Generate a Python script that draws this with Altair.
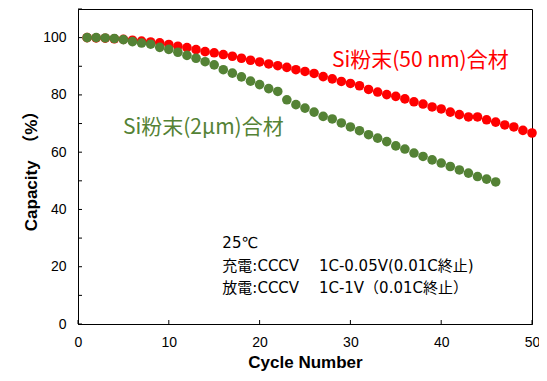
import altair as alt
import pandas as pd

# --- data ---
cycles_50nm = list(range(1, 51))
cap_50nm = [100.0, 99.9, 99.8, 99.6, 99.4, 99.1, 98.8, 98.5, 98.2, 97.6,
            97.0, 96.5, 95.8, 95.1, 94.7, 94.1, 93.5, 92.8, 92.1, 91.5,
            90.8, 90.2, 89.6, 88.8, 88.2, 87.5, 86.4, 85.6, 84.7, 84.0,
            83.2, 81.9, 81.0, 80.1, 79.5, 78.6, 77.6, 76.8, 75.8, 75.1,
            74.0, 73.1, 72.3, 72.3, 71.3, 70.5, 69.5, 68.8, 67.6, 66.7]

cycles_2um = list(range(1, 47))
cap_2um = [100.0, 100.0, 99.9, 99.7, 99.3, 98.6, 98.1, 97.7, 96.6, 95.9,
           94.9, 93.8, 92.8, 91.6, 90.5, 88.8, 87.6, 86.3, 84.8, 83.6,
           82.2, 81.2, 78.3, 76.6, 75.4, 74.0, 72.5, 71.6, 70.2, 68.8,
           67.5, 66.1, 64.9, 63.7, 62.2, 61.1, 59.7, 58.5, 57.3, 56.2,
           55.0, 53.8, 52.7, 51.5, 50.6, 49.6]

series_names = ["Si粉末(50 nm)合材", "Si粉末(2μm)合材"]
series_colors = ["#FF0000", "#548235"]

label_x = [37.7, 13.8]
label_y = [92.0, 68.5]

note_lines = ["25℃", "充電:CCCV　 1C-0.05V(0.01C終止)", "放電:CCCV　 1C-1V（0.01C終止）"]
note_x = [15.9, 15.9, 15.9]
note_y = [28.3, 20.2, 12.6]

x_ticks = [0, 10, 20, 30, 40, 50]
y_ticks = [0, 10, 20, 30, 40, 50, 60, 70, 80, 90, 100, 110]
y_labels = [0, 20, 40, 60, 80, 100]

# --- tables ---
df = pd.concat([
    pd.DataFrame({"cycle": cycles_50nm, "cap": cap_50nm, "series": series_names[0]}),
    pd.DataFrame({"cycle": cycles_2um, "cap": cap_2um, "series": series_names[1]}),
])
labels_df = pd.DataFrame({"x": label_x, "y": label_y, "text": series_names, "series": series_names})
notes_df = pd.DataFrame({"x": note_x, "y": note_y, "text": note_lines})
xt_df = pd.DataFrame({"v": x_ticks})
yt_df = pd.DataFrame({"v": y_ticks})

xscale = alt.Scale(domain=[0, 50], nice=False, zero=False)
yscale = alt.Scale(domain=[0, 110], nice=False)
cscale = alt.Scale(domain=series_names, range=series_colors)

x_axis = alt.Axis(values=x_ticks, tickSize=0, labelPadding=11, labelFontSize=14,
                  labelColor="black", labelFont="Liberation Sans", grid=False,
                  domainColor="black", title="Cycle Number", titleFontSize=17,
                  titleFont="Liberation Sans", titleFontWeight="bold",
                  titleColor="black", titlePadding=5, labelFlush=False)
y_axis = alt.Axis(values=y_labels, tickSize=0, labelPadding=12, labelFontSize=14,
                  labelColor="black", labelFont="Liberation Sans", grid=False,
                  domainColor="black", title="Capacity　（%）", titleFontSize=17,
                  titleFont="Liberation Sans, Noto Sans CJK JP", titleFontWeight="bold",
                  titleColor="black", titlePadding=2)

points = alt.Chart(df).mark_circle(size=92, opacity=1).encode(
    x=alt.X("cycle:Q", scale=xscale, axis=x_axis),
    y=alt.Y("cap:Q", scale=yscale, axis=y_axis),
    color=alt.Color("series:N", scale=cscale, legend=None),
    order=alt.Order("series:N", sort="descending"),
)

series_text = alt.Chart(labels_df).mark_text(
    fontSize=21, font="Noto Sans CJK JP", align="center", baseline="middle"
).encode(
    x=alt.X("x:Q", scale=xscale),
    y=alt.Y("y:Q", scale=yscale),
    text="text:N",
    color=alt.Color("series:N", scale=cscale, legend=None),
)

notes = alt.Chart(notes_df).mark_text(
    fontSize=15, font="DejaVu Sans, Noto Sans CJK JP", align="left", baseline="middle", color="black"
).encode(
    x=alt.X("x:Q", scale=xscale),
    y=alt.Y("y:Q", scale=yscale),
    text="text:N",
)

x_tick_marks = alt.Chart(xt_df).mark_rule(color="black", strokeWidth=1).encode(
    x=alt.X("v:Q", scale=xscale),
    y=alt.value(315),
    y2=alt.value(311),
)
y_tick_marks = alt.Chart(yt_df).mark_rule(color="black", strokeWidth=1).encode(
    y=alt.Y("v:Q", scale=yscale),
    x=alt.value(0),
    x2=alt.value(4),
)

chart = alt.layer(x_tick_marks, y_tick_marks, points, series_text, notes).properties(
    width=454, height=315,
    autosize=alt.AutoSizeParams(type="none"),
    padding={"left": 70, "top": 1, "right": 7, "bottom": 49},
    background="white",
).configure_view(stroke="black", strokeWidth=1)

chart.save("out.html", embed_options={"renderer": "svg", "actions": False})
